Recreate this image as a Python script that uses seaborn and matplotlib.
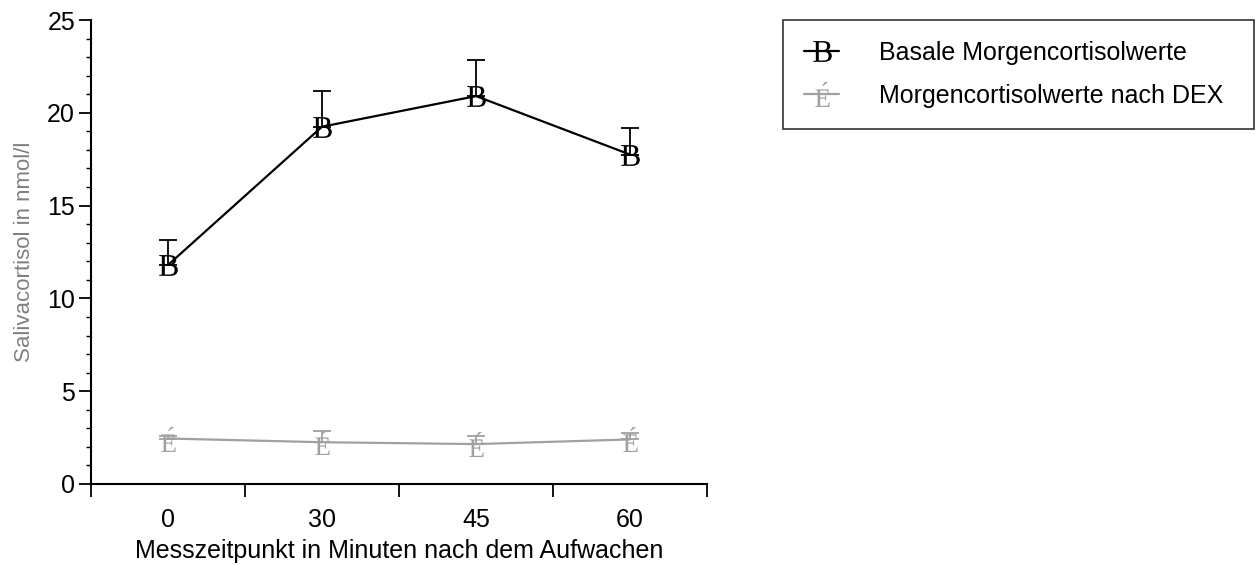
import pandas as pd
import matplotlib.pyplot as plt
import seaborn as sns
from matplotlib.ticker import MultipleLocator

# Werte
zeitpunkte = ['0', '30', '45', '60']
basal_mittel = [11.8, 19.25, 20.9, 17.75]
basal_fehler = [1.35, 1.95, 1.95, 1.45]
dex_mittel = [2.45, 2.25, 2.15, 2.4]
dex_fehler = [0.15, 0.6, 0.45, 0.35]

gruppen = ['Basale Morgencortisolwerte', 'Morgencortisolwerte nach DEX']
farben = ['black', '#a0a0a0']
zeichen = [r'$\mathrm{B}$', r'$\mathrm{\acute{E}}$']

data = pd.concat([
    pd.DataFrame({'Zeit': zeitpunkte, 'Wert': basal_mittel, 'Fehler': basal_fehler, 'Gruppe': gruppen[0]}),
    pd.DataFrame({'Zeit': zeitpunkte, 'Wert': dex_mittel, 'Fehler': dex_fehler, 'Gruppe': gruppen[1]}),
])

sns.set_style("ticks")
plt.rcParams['font.family'] = ['Liberation Sans', 'DejaVu Sans']
plt.rcParams['mathtext.fontset'] = 'custom'
plt.rcParams['mathtext.rm'] = 'Liberation Serif'
for key in ['text.color', 'axes.labelcolor', 'xtick.color', 'ytick.color', 'axes.edgecolor']:
    plt.rcParams[key] = 'black'

fig = plt.figure(figsize=(12.57, 5.65), dpi=100)
ax = fig.add_axes([0.0724, 0.1434, 0.4901, 0.8212])

for gruppe, farbe, m, ms in zip(gruppen, farben, zeichen, [15, 18]):
    sub = data[data['Gruppe'] == gruppe]
    sns.lineplot(data=sub, x='Zeit', y='Wert', color=farbe, marker=m, markersize=ms,
                 markeredgewidth=0, linewidth=1.6, label=gruppe, ax=ax, sort=False)
    ax.errorbar(range(len(sub)), sub['Wert'], yerr=[[0] * len(sub), sub['Fehler']],
                fmt='none', ecolor=farbe, elinewidth=1.3, capsize=6.5, capthick=1.3)

ax.set_xlim(-0.5, 3.5)
ax.set_ylim(0, 25)
ax.set_xticks([-0.5, 0.5, 1.5, 2.5, 3.5], labels=[''] * 5)
ax.set_xticks(range(len(zeitpunkte)), labels=zeitpunkte, minor=True)
ax.tick_params(axis='x', which='major', length=9, width=1.3, direction='out')
ax.tick_params(axis='x', which='minor', length=0, pad=17, labelsize=18)
ax.yaxis.set_major_locator(MultipleLocator(5))
ax.yaxis.set_minor_locator(MultipleLocator(1))
ax.tick_params(axis='y', which='major', length=8.5, width=1.3, labelsize=18, pad=3)
ax.tick_params(axis='y', which='minor', length=3.6, width=1.0)
sns.despine(ax=ax)
for s in ['left', 'bottom']:
    ax.spines[s].set_linewidth(1.5)

ax.set_xlabel('Messzeitpunkt in Minuten nach dem Aufwachen', fontsize=18, labelpad=5)
ax.set_ylabel('Salivacortisol in nmol/l', fontsize=16, color='#808080', labelpad=9)

leg = ax.legend(loc='upper left', bbox_to_anchor=(0.623, 0.776, 0.375, 0.189),
                bbox_transform=fig.transFigure, mode='expand', borderaxespad=0,
                fontsize=18, frameon=True, fancybox=False, edgecolor='black',
                handlelength=1.4, handletextpad=1.6, borderpad=0.85, labelspacing=0.75)
leg.get_frame().set_linewidth(1.2)

plt.savefig('out.png', dpi=100)
plt.close()
